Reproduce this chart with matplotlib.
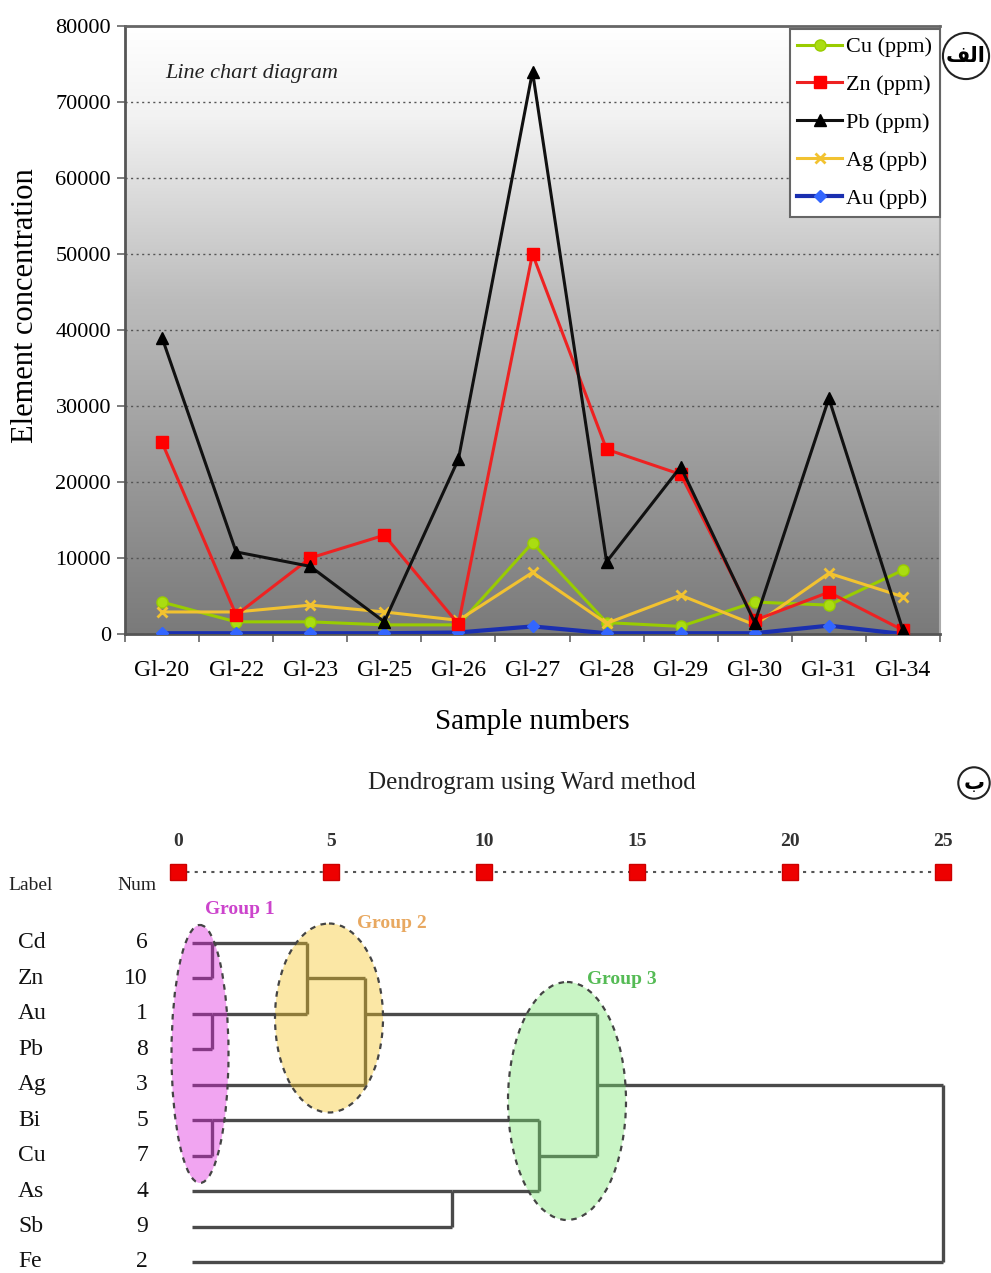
import numpy as np
import matplotlib
matplotlib.use("Agg")
import matplotlib.pyplot as plt
from matplotlib.patches import Ellipse

plt.rcParams['font.family'] = ['Liberation Serif', 'DejaVu Sans']

# ---------------- data: line chart ----------------
samples = ['Gl-20', 'Gl-22', 'Gl-23', 'Gl-25', 'Gl-26', 'Gl-27', 'Gl-28', 'Gl-29', 'Gl-30', 'Gl-31', 'Gl-34']
cu = [4200, 1600, 1600, 1200, 1200, 12000, 1500, 1000, 4200, 3800, 8400]
zn = [25200, 2500, 10000, 13000, 1300, 50000, 24300, 21000, 1800, 5500, 500]
pb = [39000, 10800, 8900, 1600, 23000, 74000, 9500, 22000, 1500, 31000, 500]
ag = [2900, 2900, 3800, 2900, 1800, 8100, 1400, 5100, 1200, 8000, 4900]
au = [100, 100, 100, 100, 200, 1000, 100, 100, 100, 1100, 0]
series_names = ['Cu (ppm)', 'Zn (ppm)', 'Pb (ppm)', 'Ag (ppb)', 'Au (ppb)']
y_ticks = [0, 10000, 20000, 30000, 40000, 50000, 60000, 70000, 80000]

# ---------------- data: dendrogram ----------------
leaf_labels = ['Cd', 'Zn', 'Au', 'Pb', 'Ag', 'Bi', 'Cu', 'As', 'Sb', 'Fe']
leaf_nums = [6, 10, 1, 8, 3, 5, 7, 4, 9, 2]
# merges: (cluster a, cluster b, rescaled distance); leaves 0..9, new clusters 10..
merges = [
    (0, 1, 1.1),     # Cd + Zn
    (2, 3, 1.1),     # Au + Pb
    (5, 6, 1.1),     # Bi + Cu
    (10, 11, 4.2),   # (Cd,Zn) + (Au,Pb)
    (13, 4, 6.1),    # + Ag
    (7, 8, 8.95),    # As + Sb
    (12, 15, 11.8),  # (Bi,Cu) + (As,Sb)
    (14, 16, 13.7),  # group merge
    (17, 9, 25.0),   # + Fe
]
scale_ticks = [0, 5, 10, 15, 20, 25]
leaf_start = 0.46

W, H = 991, 1273
fig = plt.figure(figsize=(W / 100, H / 100), dpi=100)

# ================= line chart =================
ax = fig.add_axes([125 / W, 1 - 634 / H, (940 - 125) / W, (634 - 26) / H])
x = np.arange(len(samples))
ax.set_xlim(-0.5, len(samples) - 0.5)
ax.set_ylim(0, 80000)

# gradient background
grad = np.linspace(0, 1, 256).reshape(-1, 1)
cmap = matplotlib.colors.LinearSegmentedColormap.from_list(
    'bg', [(0.0, '#7a7a7a'), (0.55, '#bcbcbc'), (0.85, '#f2f2f2'), (1.0, '#ffffff')])
ax.imshow(grad, aspect='auto', cmap=cmap, origin='lower', extent=[0, 1, 0, 1],
          transform=ax.transAxes, zorder=0)

for yv in y_ticks[1:-1]:
    ax.axhline(yv, color='#555555', lw=1.0, ls=(0, (1.5, 2.5)), zorder=1)

lw = 2.2
ax.plot(x, cu, color='#99cc00', lw=lw, marker='o', ms=8, mec='#99cc00', mfc='#aadd11', zorder=3, label=series_names[0])
ax.plot(x, zn, color='#ee2222', lw=lw, marker='s', ms=9, mec='#ff0000', mfc='#ff0000', zorder=4, label=series_names[1])
ax.plot(x, pb, color='#111111', lw=lw, marker='^', ms=9, mec='#000000', mfc='#000000', zorder=5, label=series_names[2])
ax.plot(x, ag, color='#f2c230', lw=lw, marker='x', ms=7, mew=2, mec='#f2c230', zorder=3, label=series_names[3])
ax.plot(x, au, color='#1a2fb0', lw=3, marker='D', ms=6, mec='#3366ff', mfc='#3366ff', zorder=3, label=series_names[4])

ax.set_yticks(y_ticks)
ax.set_yticklabels([str(v) for v in y_ticks], fontsize=16)
ax.set_xticks(x)
ax.set_xticklabels(samples, fontsize=17)
ax.set_xticks(np.arange(-0.5, len(samples), 1.0), minor=True)
ax.tick_params(axis='x', which='major', length=0, pad=19)
ax.tick_params(axis='x', which='minor', length=6, width=1.2, color='#666666', direction='out')
ax.tick_params(axis='y', which='major', length=6, width=1.2, color='#666666', direction='out', pad=4)

for side in ['left', 'bottom']:
    ax.spines[side].set_color('#555555')
    ax.spines[side].set_linewidth(2)
ax.spines['top'].set_color('#666666')
ax.spines['top'].set_linewidth(2)
ax.spines['right'].set_color('#aaaaaa')
ax.spines['right'].set_linewidth(1.5)

ax.set_ylabel('Element concentration', fontsize=22)
ax.yaxis.set_label_coords(-0.104, 0.54)
ax.set_xlabel('Sample numbers', fontsize=21, labelpad=20)
ax.text(0.05, 0.915, 'Line chart diagram', transform=ax.transAxes, fontsize=16,
        style='italic', color='#222222', zorder=6)

leg = ax.legend(loc='upper right', bbox_to_anchor=(1.0, 0.995), fontsize=16, frameon=True,
                fancybox=False, handlelength=2.0, handletextpad=0.2, borderpad=0.35,
                labelspacing=0.78, borderaxespad=0.0)
leg.get_frame().set_edgecolor('#666666')
leg.get_frame().set_linewidth(1.5)
leg.get_frame().set_facecolor('white')
leg.get_frame().set_alpha(1)
leg.set_zorder(10)

# circled letter (alef-lam-feh, in visual order presentation forms)
fig.text(966 / W, 1 - 56 / H, '\uFED2\uFEDF\uFE8D', fontsize=15, ha='center', va='center',
         family=['DejaVu Sans'], fontweight='bold',
         bbox=dict(boxstyle='circle,pad=0.15', fc='white', ec='#222222', lw=1.5))

# ================= dendrogram =================
px0, ppu = 178.0, 30.6        # pixel of 0 and pixels per unit
row0, ppr = 943.0, 35.44      # pixel of first row and pixels per row
dax = fig.add_axes([0, 0, 1, (H - 800) / H])
dax.set_xlim((0 - px0) / ppu, (W - px0) / ppu)
dax.set_ylim((H - row0) / ppr, (800 - row0) / ppr)
dax.axis('off')

line_color = '#4a4a4a'
dlw = 2.4
# scale bar
scale_row = (872 - row0) / ppr
dax.plot([scale_ticks[0], scale_ticks[-1]], [scale_row, scale_row], color='#555555',
         lw=1.5, ls=(0, (1.5, 2.5)), zorder=2)
dax.plot(scale_ticks, [scale_row] * len(scale_ticks), ls='none', marker='s', ms=11,
         mfc='#ee0000', mec='#cc0000', zorder=3)
for t in scale_ticks:
    dax.text(t, (841 - row0) / ppr, str(t), ha='center', va='center', fontsize=14,
             fontweight='bold', color='#333333')

dax.text((8 - px0) / ppu, (885 - row0) / ppr, 'Label', ha='left', va='center', fontsize=14, color='#222222')
dax.text((137 - px0) / ppu, (885 - row0) / ppr, 'Num', ha='center', va='center', fontsize=14, color='#222222')
for i, (lab, num) in enumerate(zip(leaf_labels, leaf_nums)):
    dax.text((18 - px0) / ppu, i, lab, ha='left', va='center', fontsize=17, color='#111111')
    dax.text((148 - px0) / ppu, i, str(num), ha='right', va='center', fontsize=17, color='#111111')

# draw the dendrogram from merges
pos = {i: (leaf_start, float(i)) for i in range(len(leaf_labels))}
nid = len(leaf_labels)
for a, b, d in merges:
    xa, ya = pos[a]
    xb, yb = pos[b]
    dax.plot([xa, d], [ya, ya], color=line_color, lw=dlw, solid_capstyle='butt', zorder=2)
    dax.plot([xb, d], [yb, yb], color=line_color, lw=dlw, solid_capstyle='butt', zorder=2)
    dax.plot([d, d], [ya, yb], color=line_color, lw=dlw, solid_capstyle='butt', zorder=2)
    pos[nid] = (d, float(np.floor((ya + yb) / 2)))
    nid += 1

# group ellipses
groups = [
    ('Group 1', (200, 1054), 57, 258, '#de20de', '#cc44cc', (240, 910)),
    ('Group 2', (329, 1018), 108, 189, '#f5c520', '#e8a860', (392, 923)),
    ('Group 3', (567, 1101), 118, 238, '#78e670', '#55bb55', (622, 980)),
]
for name, (cx, cy), w, h, fc, tc, (tx, ty) in groups:
    e = Ellipse(((cx - px0) / ppu, (cy - row0) / ppr), w / ppu, h / ppr, fc=fc, ec='none',
                alpha=0.4, zorder=3)
    dax.add_patch(e)
    e2 = Ellipse(((cx - px0) / ppu, (cy - row0) / ppr), w / ppu, h / ppr, fc='none',
                 ec='#444444', lw=1.6, ls=(0, (2.5, 2.5)), zorder=4)
    dax.add_patch(e2)
    dax.text((tx - px0) / ppu, (ty - row0) / ppr, name, ha='center', va='center',
             fontsize=14, color=tc, fontweight='bold')

fig.text(532 / W, 1 - 783 / H, 'Dendrogram using Ward method', ha='center', va='center',
         fontsize=18, color='#222222')
fig.text(974 / W, 1 - 783 / H, '\u0628', fontsize=15, ha='center', va='center',
         family=['DejaVu Sans'], fontweight='bold',
         bbox=dict(boxstyle='circle,pad=0.25', fc='white', ec='#222222', lw=1.5))

fig.savefig('out.png', dpi=100)
